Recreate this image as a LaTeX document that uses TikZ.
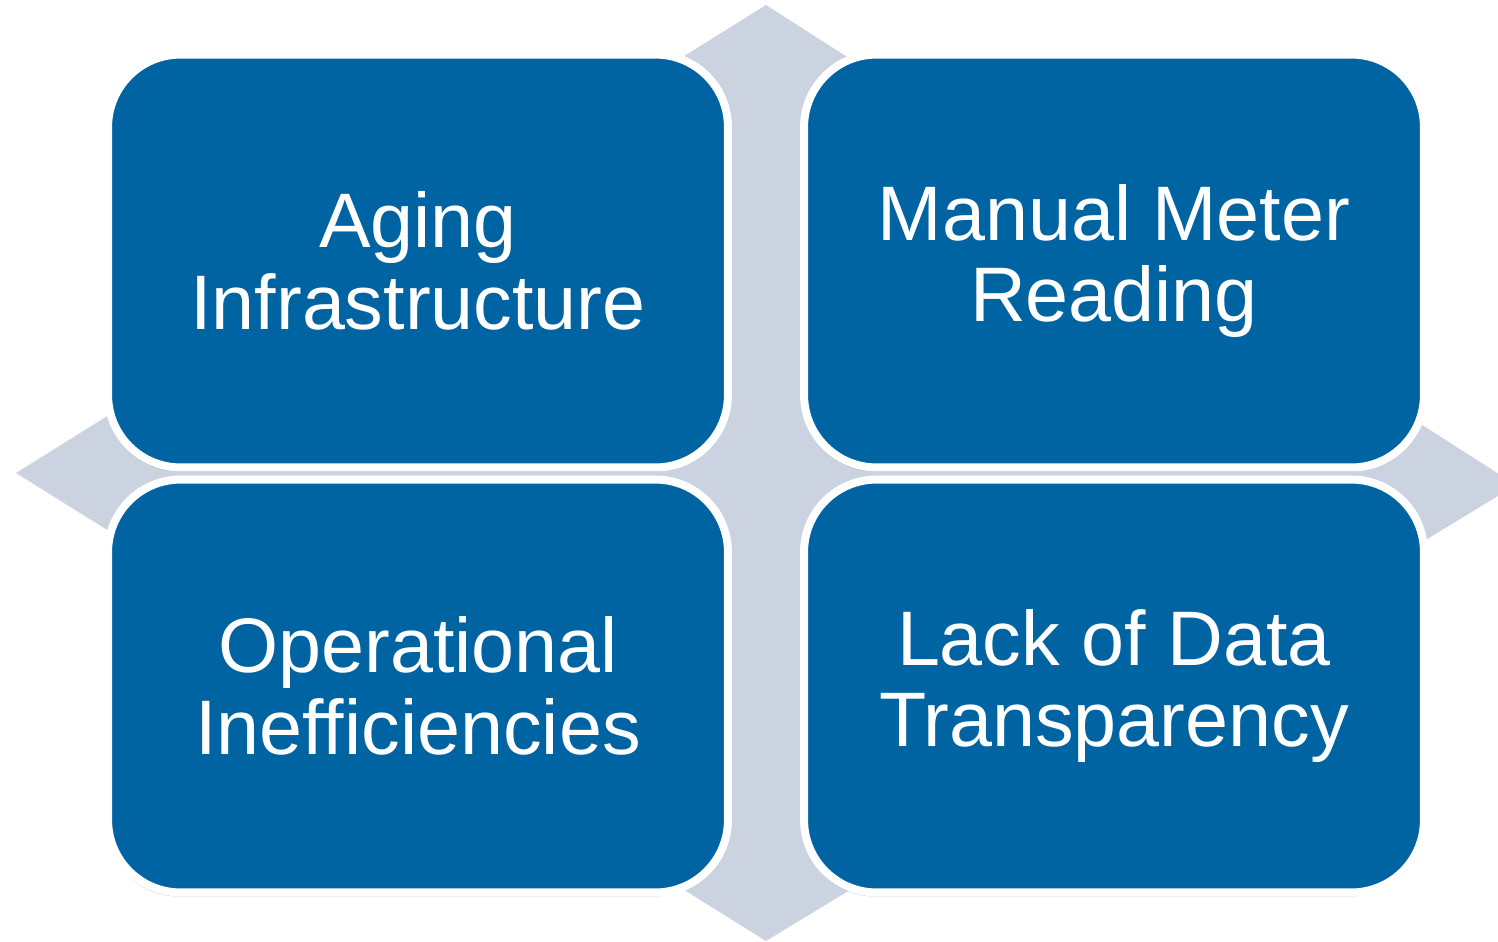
\documentclass[tikz,border=0pt]{standalone}
\usepackage{fontspec}
\setmainfont{Liberation Sans}
\usetikzlibrary{shadows}

\definecolor{tileblue}{RGB}{0,99,162}
\definecolor{crossgray}{RGB}{203,210,224}

\tikzset{
    tile/.style={rectangle, rounded corners=1.45cm, draw=white, line width=0.16cm,
        fill=tileblue, minimum width=12.4cm, minimum height=8.26cm, inner sep=0pt,
        text=white, align=center, font=\fontsize{44}{46.5}\selectfont,
        drop shadow={shadow xshift=-0.03cm, shadow yshift=-0.08cm, opacity=0.25, fill=black}}
}

\begin{document}
\begin{tikzpicture}[x=0.02cm, y=-0.02cm]
    \useasboundingbox (0,0) rectangle (1498,941);

    % background diamond
    \begin{scope}
        \clip (0,0) rectangle (1498,941);
        \fill[crossgray] (766,5) -- (1516,485) -- (766,941) -- (16,473) -- cycle;
    \end{scope}

    % four tiles
    \node[tile] (aging) at (418,261) {Aging\\Infrastructure};
    \node[tile] (manual) at (1114,261) {Manual Meter\\Reading};
    \node[tile] (operational) at (418,686) {Operational\\Inefficiencies};
    \node[tile] (lack) at (1114,686) {Lack of Data\\Transparency};
\end{tikzpicture}
\end{document}
